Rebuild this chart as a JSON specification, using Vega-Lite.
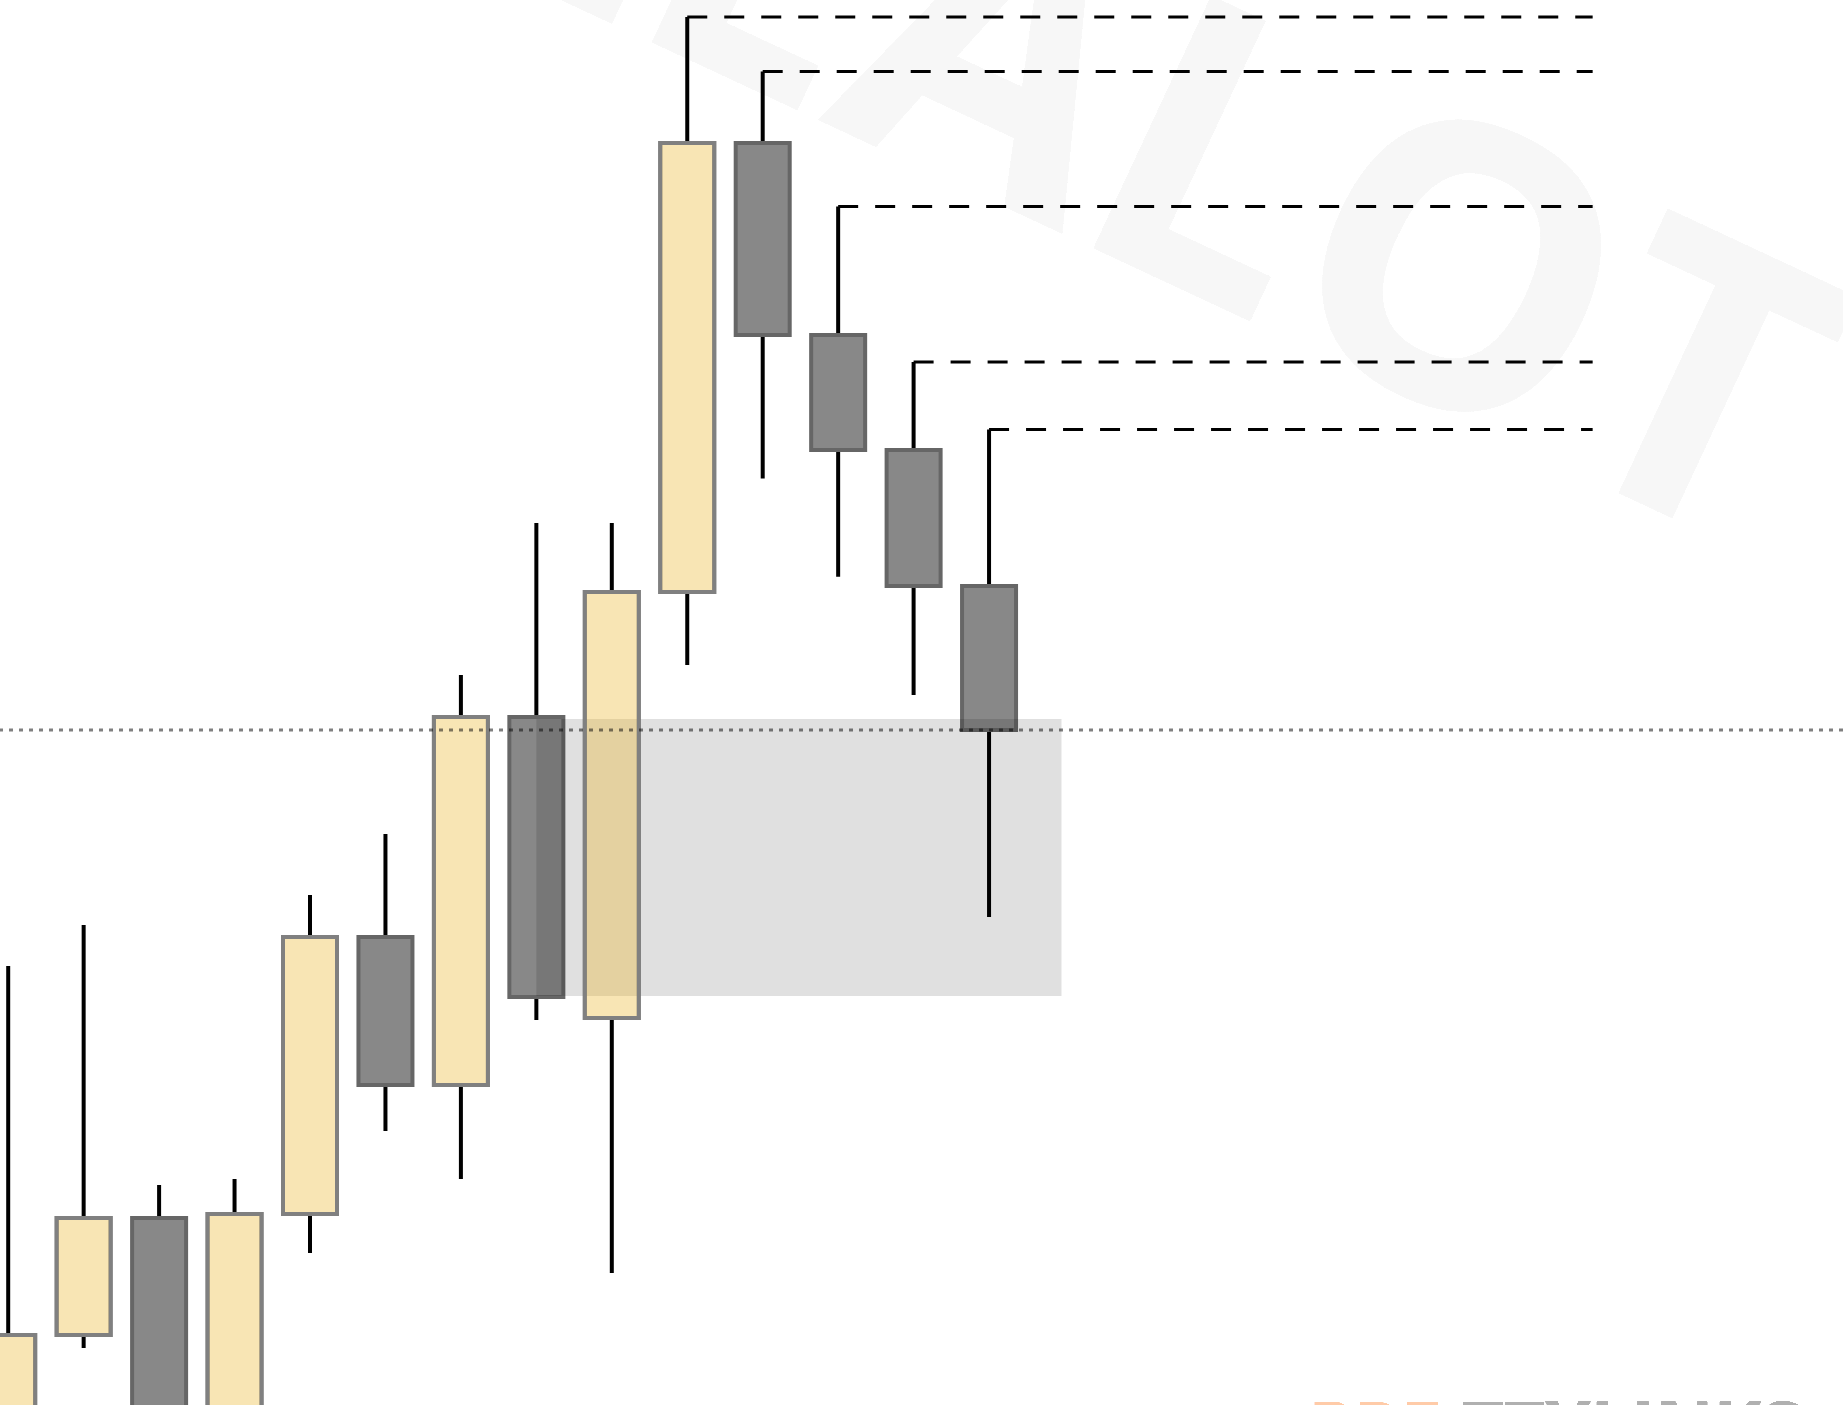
{
  "$schema": "https://vega.github.io/schema/vega-lite/v6.json",
  "width": 1843,
  "height": 1405,
  "padding": 0,
  "autosize": {"type": "fit", "contains": "padding"},
  "background": "white",
  "config": {"view": {"stroke": null}},
  "datasets": {
    "candles": [
      {"i": 0, "o": 30, "h": 534, "l": 10, "c": 165, "dir": "bull"},
      {"i": 1, "o": 165, "h": 575, "l": 152, "c": 282, "dir": "bull"},
      {"i": 2, "o": 282, "h": 315, "l": 5, "c": 20, "dir": "bear"},
      {"i": 3, "o": 25, "h": 321, "l": 10, "c": 286, "dir": "bull"},
      {"i": 4, "o": 286, "h": 605, "l": 247, "c": 563, "dir": "bull"},
      {"i": 5, "o": 563, "h": 666, "l": 369, "c": 415, "dir": "bear"},
      {"i": 6, "o": 415, "h": 825, "l": 321, "c": 783, "dir": "bull"},
      {"i": 7, "o": 783, "h": 977, "l": 480, "c": 503, "dir": "bear"},
      {"i": 8, "o": 482, "h": 977, "l": 227, "c": 908, "dir": "bull"},
      {"i": 9, "o": 908, "h": 1483, "l": 835, "c": 1357, "dir": "bull"},
      {"i": 10, "o": 1357, "h": 1428.6, "l": 1021.4, "c": 1165, "dir": "bear"},
      {"i": 11, "o": 1165, "h": 1293.6, "l": 923.2, "c": 1050, "dir": "bear"},
      {"i": 12, "o": 1050, "h": 1138, "l": 805, "c": 914, "dir": "bear"},
      {"i": 13, "o": 914, "h": 1070.5, "l": 583, "c": 770, "dir": "bear"}
    ],
    "zone": [{"from": 7, "to": 13.96, "top": 781, "bottom": 504}],
    "level": [{"p": 770}]
  },
  "data": {"name": "candles"},
  "layer": [
    {
      "mark": {"type": "text", "angle": 25, "align": "left", "baseline": "alphabetic", "font": "Open Sans", "fontWeight": "bold", "fontSize": 390, "color": "#f7f7f7", "clip": true},
      "encoding": {
        "x": {"datum": 5.40, "type": "quantitative", "scale": {"domain": [-0.1087, 24.318], "nice": false, "zero": false, "padding": 0}, "axis": null},
        "y": {"datum": 1568, "type": "quantitative", "scale": {"domain": [95, 1500], "nice": false, "zero": false}, "axis": null},
        "text": {"value": "ZEALOT"}
      }
    },
    {
      "mark": {"type": "text", "align": "left", "baseline": "alphabetic", "font": "Open Sans", "fontWeight": "bold", "fontSize": 72, "color": "#ffcba8", "clip": true},
      "encoding": {
        "x": {"datum": 17.234, "type": "quantitative"},
        "y": {"datum": 47, "type": "quantitative"},
        "text": {"value": "PRE"}
      }
    },
    {
      "mark": {"type": "text", "align": "left", "baseline": "alphabetic", "font": "Open Sans", "fontWeight": "bold", "fontSize": 72, "color": "#b0b0b0", "clip": true},
      "encoding": {
        "x": {"datum": 19.27, "type": "quantitative"},
        "y": {"datum": 47, "type": "quantitative"},
        "text": {"value": "TTYLINKS"}
      }
    },
    {
      "mark": {"type": "rule", "color": "#000000", "strokeWidth": 4, "clip": true},
      "encoding": {
        "x": {"field": "i", "type": "quantitative"},
        "y": {"field": "l", "type": "quantitative"},
        "y2": {"field": "h"}
      }
    },
    {
      "mark": {"type": "bar", "orient": "vertical", "size": 54, "strokeWidth": 4, "clip": true},
      "encoding": {
        "x": {"field": "i", "type": "quantitative"},
        "y": {"field": "o", "type": "quantitative"},
        "y2": {"field": "c"},
        "fill": {"field": "dir", "type": "nominal", "scale": {"domain": ["bull", "bear"], "range": ["#ffffff", "#888888"]}, "legend": null},
        "stroke": {"field": "dir", "type": "nominal", "scale": {"domain": ["bull", "bear"], "range": ["#808080", "#666666"]}, "legend": null}
      }
    },
    {
      "transform": [{"filter": "datum.i >= 9"}],
      "mark": {"type": "rule", "color": "#000000", "strokeWidth": 3, "strokeDash": [20, 17], "clip": true},
      "encoding": {
        "x": {"field": "i", "type": "quantitative"},
        "x2": {"datum": 21},
        "y": {"field": "h", "type": "quantitative"}
      }
    },
    {
      "data": {"name": "zone"},
      "mark": {"type": "rect", "fill": "#000000", "fillOpacity": 0.12, "clip": true},
      "encoding": {
        "x": {"field": "from", "type": "quantitative"},
        "x2": {"field": "to"},
        "y": {"field": "top", "type": "quantitative"},
        "y2": {"field": "bottom"}
      }
    },
    {
      "transform": [{"filter": "datum.dir == 'bull'"}],
      "mark": {"type": "bar", "orient": "vertical", "size": 54, "strokeWidth": 4, "fill": "#ebb62c", "fillOpacity": 0.355, "stroke": "#808080", "clip": true},
      "encoding": {
        "x": {"field": "i", "type": "quantitative"},
        "y": {"field": "o", "type": "quantitative"},
        "y2": {"field": "c"}
      }
    },
    {
      "data": {"name": "level"},
      "mark": {"type": "rule", "color": "#000000", "opacity": 0.5, "strokeWidth": 3, "strokeDash": [4, 6], "clip": true},
      "encoding": {
        "y": {"field": "p", "type": "quantitative"}
      }
    }
  ]
}
